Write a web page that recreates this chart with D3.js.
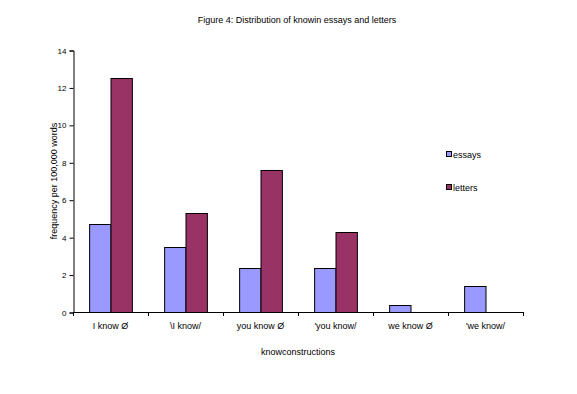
<!DOCTYPE html>
<html>
<head>
<meta charset="utf-8">
<script src="https://cdn.jsdelivr.net/npm/d3@7"></script>
<style>
  html, body { margin: 0; padding: 0; background: #fff; }
  svg text { font-family: "Liberation Sans", Arial, sans-serif; fill: #000; }
</style>
</head>
<body>
<svg id="chart" width="577" height="394"></svg>
<script>
// Figure 4 – frequency of "know" constructions
const categories = ['I know Ø', '\\I know/', 'you know Ø', '\'you know/', 'we know Ø', '\'we know/'];
const seriesNames = ['essays', 'letters'];
const essays  = [4.7, 3.5, 2.35, 2.35, 0.4, 1.4];
const letters = [12.5, 5.3, 7.6, 4.3, 0, 0];
const yTicks = [0, 2, 4, 6, 8, 10, 12, 14];

const colors = { essays: '#9999FF', letters: '#993366' };

const svg = d3.select('#chart');
const plot = { left: 73, right: 523, top: 50, bottom: 312 };

const x0 = d3.scaleBand()
  .domain(categories)
  .range([plot.left, plot.right])
  .paddingInner(0.43)
  .paddingOuter(0.215);

const x1 = d3.scaleBand()
  .domain(seriesNames)
  .range([0, x0.bandwidth()]);

const y = d3.scaleLinear().domain([0, 14]).range([plot.bottom, plot.top]);

const rows = categories.map((c, i) => ({ cat: c, essays: essays[i], letters: letters[i] }));

// bars
const groups = svg.append('g').selectAll('g')
  .data(rows).enter().append('g')
  .attr('transform', d => `translate(${x0(d.cat)},0)`);

groups.selectAll('rect')
  .data(d => seriesNames.map(s => ({ key: s, value: d[s] })).filter(d => d.value > 0))
  .enter().append('rect')
  .attr('x', d => x1(d.key) + 0.5)
  .attr('y', d => Math.round(y(d.value)) + 0.5)
  .attr('width', x1.bandwidth())
  .attr('height', d => plot.bottom - Math.round(y(d.value)))
  .attr('fill', d => colors[d.key])
  .attr('stroke', '#000')
  .attr('stroke-width', 1);

// y axis
const yAxis = d3.axisLeft(y).tickValues(yTicks).tickSize(4).tickPadding(3);
const yg = svg.append('g')
  .attr('transform', `translate(${plot.left + 0.5},0.5)`)
  .call(yAxis);
yg.selectAll('text').style('font-size', '8px');

// x axis
const xEdges = d3.range(categories.length + 1).map(i => plot.left + i * (plot.right - plot.left) / categories.length);
const xg = svg.append('g');
xg.append('line')
  .attr('x1', plot.left).attr('x2', plot.right)
  .attr('y1', plot.bottom + 0.5).attr('y2', plot.bottom + 0.5)
  .attr('stroke', '#000');
xg.selectAll('.xt').data(xEdges).enter().append('line')
  .attr('x1', d => Math.round(d) + 0.5).attr('x2', d => Math.round(d) + 0.5)
  .attr('y1', plot.bottom).attr('y2', plot.bottom + 4)
  .attr('stroke', '#000');
xg.selectAll('.xl').data(categories).enter().append('text')
  .attr('x', d => x0(d) + x0.bandwidth() / 2)
  .attr('y', 329)
  .attr('text-anchor', 'middle')
  .style('font-size', '9px')
  .text(d => d);

// titles
svg.append('text')
  .attr('x', 297).attr('y', 23)
  .attr('text-anchor', 'middle')
  .style('font-size', '9px')
  .text('Figure 4: Distribution of knowin essays and letters');

svg.append('text')
  .attr('x', 298).attr('y', 355)
  .attr('text-anchor', 'middle')
  .style('font-size', '9px')
  .text('knowconstructions');

svg.append('text')
  .attr('transform', `translate(57,${(plot.top + plot.bottom) / 2}) rotate(-90)`)
  .attr('text-anchor', 'middle')
  .style('font-size', '9px')
  .text('frequency per 100,000 words');

// legend
const legend = svg.append('g').selectAll('g')
  .data(seriesNames).enter().append('g')
  .attr('transform', (d, i) => `translate(446,${151 + i * 33})`);
legend.append('rect')
  .attr('x', 0.5).attr('y', 0.5)
  .attr('width', 5).attr('height', 5)
  .attr('fill', d => colors[d])
  .attr('stroke', '#000');
legend.append('text')
  .attr('x', 7).attr('y', 7)
  .style('font-size', '9px')
  .text(d => d);
</script>
</body>
</html>
